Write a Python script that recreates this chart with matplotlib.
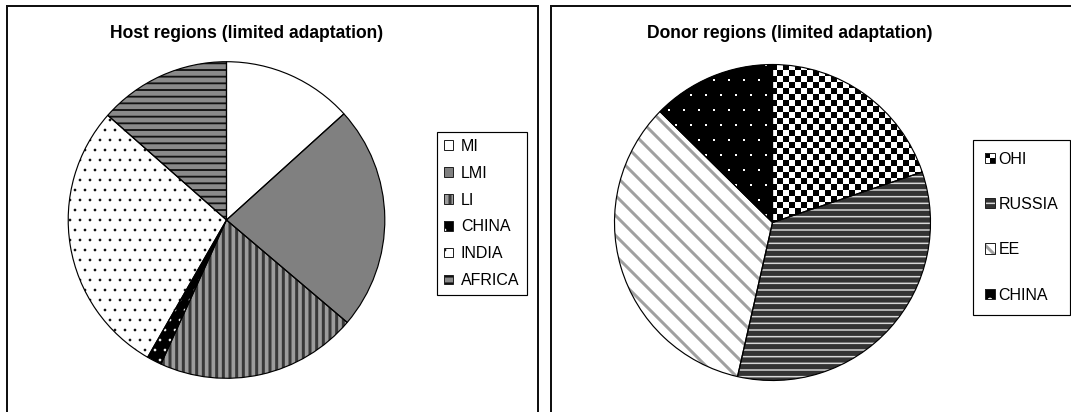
import matplotlib
matplotlib.use('Agg')
import matplotlib.pyplot as plt
import numpy as np
from matplotlib.patches import Rectangle, Patch
from matplotlib.legend_handler import HandlerBase

plt.rcParams['font.family'] = ['Liberation Sans', 'DejaVu Sans']

# ---------------- data ----------------
host_labels = ['MI', 'LMI', 'LI', 'CHINA', 'INDIA', 'AFRICA']
host_shares = [13.3, 22.9, 20.6, 1.5, 28.2, 13.5]
donor_labels = ['OHI', 'RUSSIA', 'EE', 'CHINA']
donor_shares = [19.8, 33.7, 33.8, 12.6]
host_title = 'Host regions (limited adaptation)'
donor_title = 'Donor regions (limited adaptation)'

# ---------------- styles ----------------
host_styles = [
    dict(face='white'),
    dict(face='#808080'),
    dict(face='#9c9c9c', hatch='|||', hcolor='#383838', hlw=1.8),
    dict(face='black', hatch='..', hcolor='white', hlw=0.4),
    dict(face='white', hatch='..', hcolor='black', hlw=0.4),
    dict(face='#8a8a8a', hatch='---', hcolor='#111111', hlw=1.1),
]
donor_styles = [
    dict(face='white', pattern='checker'),
    dict(face='#333333', hatch='---', hcolor='#d8d8d8', hlw=0.9),
    dict(face='white', hatch='\\\\', hcolor='#a0a0a0', hlw=1.8),
    dict(face='black', pattern='dots', legend_hatch='.', hcolor='white', hlw=0.4),
]

W, H = 1071, 412
DPI = 120
fig = plt.figure(figsize=(W / DPI, H / DPI), dpi=DPI)


def set_hlw(p, lw):
    if hasattr(p, 'set_hatch_linewidth'):
        p.set_hatch_linewidth(lw)
    else:
        p._hatch_linewidth = lw


def fx(x):
    return x / W


def fy(y):
    return 1 - y / H


# panel borders
for (x0, x1) in [(7, 538), (551, 1085)]:
    fig.add_artist(Rectangle((fx(x0), fy(430)), fx(x1) - fx(x0), fy(6) - fy(430),
                             transform=fig.transFigure, fill=False,
                             edgecolor='#111111', linewidth=1.2, clip_on=False))


def pattern_image(kind, r):
    n = int(round(2 * r))
    ii, jj = np.indices((n, n))
    if kind == 'checker':
        c = 6
        img = (((ii // c) + (jj // c)) % 2).astype(float)
    else:  # white dots on black, staggered
        p = 15
        row = ii % p
        shift = np.where((ii // p) % 2 == 0, 0, p // 2)
        col = (jj + shift) % p
        img = ((row < 2) & (col < 2)).astype(float)
    return img


def draw_pie(cx, cy, r, shares, styles):
    ax = fig.add_axes([fx(cx - r), fy(cy + r), 2 * r / W, 2 * r / H])
    wedges, _ = ax.pie(shares, startangle=90, counterclock=False, radius=1,
                       wedgeprops=dict(linewidth=0))
    for w, st in zip(wedges, styles):
        w.set_facecolor(st['face'])
        if st.get('hatch'):
            w.set_hatch(st['hatch'])
            w.set_edgecolor(st['hcolor'])
            set_hlw(w, st['hlw'])
        else:
            w.set_edgecolor('none')
        w.set_linewidth(0)
        if st.get('pattern'):
            img = pattern_image(st['pattern'], r)
            im = ax.imshow(img, cmap='gray', vmin=0, vmax=1, interpolation='nearest',
                           extent=[-1, 1, -1, 1], zorder=1.5)
            im.set_clip_path(w)
    ax.pie(shares, startangle=90, counterclock=False, radius=1,
           colors=['none'] * len(shares),
           wedgeprops=dict(edgecolor='black', linewidth=0.7, fill=False, zorder=3))
    ax.set_xlim(-1, 1)
    ax.set_ylim(-1, 1)
    ax.set_aspect('equal')
    ax.axis('off')
    return ax


draw_pie(226.5, 220, 158.3, host_shares, host_styles)
draw_pie(772.5, 222.5, 158, donor_shares, donor_styles)

fig.text(fx(247), fy(38), host_title, ha='center', va='baseline',
         fontsize=10.5, fontweight='bold')
fig.text(fx(790), fy(38), donor_title, ha='center', va='baseline',
         fontsize=10.5, fontweight='bold')


class StyledPatch(Patch):
    pass


class StyleHandler(HandlerBase):
    def create_artists(self, legend, orig_handle, xdescent, ydescent,
                       width, height, fontsize, trans):
        st = orig_handle.style
        x0, y0 = -xdescent, -ydescent
        arts = []
        if st.get('pattern') == 'checker':
            w2, h2 = width / 2, height / 2
            cols = [['black', 'white'], ['white', 'black']]
            for i in range(2):
                for j in range(2):
                    arts.append(Rectangle((x0 + j * w2, y0 + (1 - i) * h2), w2, h2,
                                          facecolor=cols[i][j], edgecolor='none',
                                          linewidth=0, transform=trans))
        else:
            hatch = st.get('hatch', st.get('legend_hatch'))
            rct = Rectangle((x0, y0), width, height, facecolor=st['face'],
                            edgecolor=st.get('hcolor', 'none'), linewidth=0,
                            hatch=hatch, transform=trans)
            if hatch:
                set_hlw(rct, st['hlw'])
            arts.append(rct)
        arts.append(Rectangle((x0, y0), width, height, fill=False,
                              edgecolor='#222222', linewidth=0.6, transform=trans))
        return arts


def make_handles(styles):
    hs = []
    for st in styles:
        p = StyledPatch()
        p.style = st
        hs.append(p)
    return hs


leg1 = fig.legend(make_handles(host_styles), host_labels, loc='upper left',
                  bbox_to_anchor=(fx(436.7), fy(131.7)), borderaxespad=0,
                  fontsize=9.6, handlelength=0.56, handleheight=0.56,
                  handletextpad=0.5, borderpad=0.45, labelspacing=0.74,
                  fancybox=False, framealpha=1, edgecolor='black',
                  handler_map={StyledPatch: StyleHandler()})
leg1.get_frame().set_linewidth(0.7)

leg2 = fig.legend(make_handles(donor_styles), donor_labels, loc='upper left',
                  bbox_to_anchor=(fx(972.7), fy(139.5)), borderaxespad=0,
                  fontsize=9.6, handlelength=0.62, handleheight=0.62,
                  handletextpad=0.25, borderpad=0.75, labelspacing=1.9,
                  fancybox=False, framealpha=1, edgecolor='black',
                  handler_map={StyledPatch: StyleHandler()})
leg2.get_frame().set_linewidth(0.7)

fig.savefig('out.png', dpi=DPI)
